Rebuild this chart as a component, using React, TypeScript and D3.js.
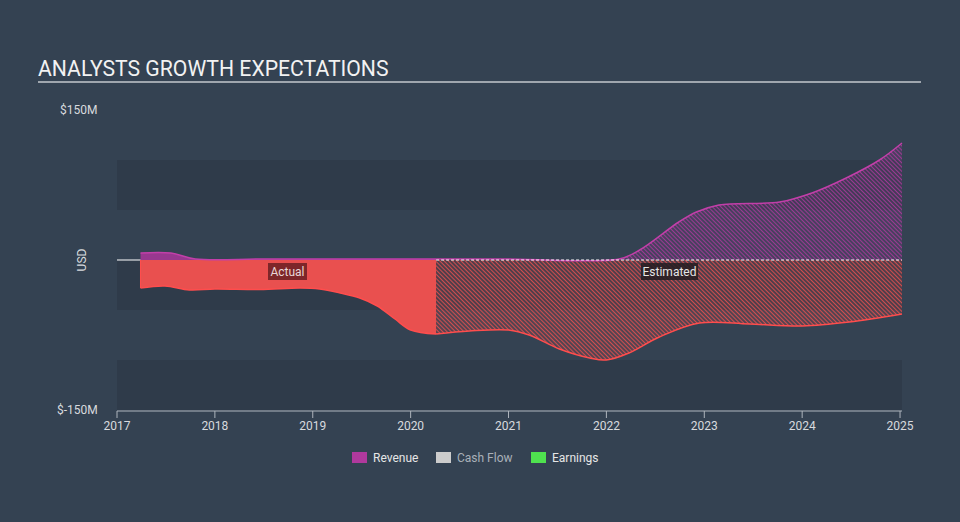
import React from "react";
import * as d3 from "d3";

// decimal years, $M
const revenueActual: [number, number][] = [
  [2017.24, 7], [2017.55, 7], [2017.8, 1], [2018.5, 1], [2019.5, 1], [2020.26, 1],
];
const revenueEstimated: [number, number][] = [
  [2020.26, 1], [2021, 1], [2022.13, 1], [2022.34, 10], [2022.74, 38], [2022.92, 48],
  [2023.15, 55], [2023.77, 58], [2024.1, 67], [2024.45, 82], [2024.79, 100], [2025.02, 117],
];
const earningsActual: [number, number][] = [
  [2017.24, -28], [2017.49, -26], [2017.74, -30], [2018, -29], [2018.46, -29.5],
  [2018.87, -28], [2019.07, -29], [2019.28, -33], [2019.48, -38], [2019.66, -46],
  [2019.84, -59], [2020, -70], [2020.26, -74],
];
const earningsEstimated: [number, number][] = [
  [2020.26, -74], [2020.6, -71], [2021, -70], [2021.21, -75], [2021.52, -89],
  [2021.83, -98], [2022, -100], [2022.23, -93], [2022.54, -77], [2022.95, -63],
  [2023.46, -64], [2024, -66], [2024.48, -62], [2025.02, -54],
];
const yearTicks = [2017, 2018, 2019, 2020, 2021, 2022, 2023, 2024, 2025];
const yTickLabels = ["$150M", "$-150M"];
const legendItems = [
  { name: "Revenue", color: "#b0399d", text: "#e6e6e6" },
  { name: "Cash Flow", color: "#cccccc", text: "#a9b0b8" },
  { name: "Earnings", color: "#4fe24f", text: "#e6e6e6" },
];

const W = 960;
const H = 522;
const BG = "#344252";
const BAND = "#2f3b4a";
const FONT = "Roboto, 'Open Sans', sans-serif";

export default function App() {
  const x = d3.scaleLinear().domain([2017, 2025.02]).range([117, 902]);
  const y = d3.scaleLinear().domain([-150, 150]).range([410, 110]);

  const curve = d3.curveCatmullRom.alpha(0.5);
  const line = d3.line<[number, number]>()
    .x((d) => x(d[0]))
    .y((d) => y(d[1]))
    .curve(curve);
  const area = d3.area<[number, number]>()
    .x((d) => x(d[0]))
    .y0(y(0))
    .y1((d) => y(d[1]))
    .curve(curve);

  const bands = [100, 0, -100];
  const splitX = x(2020.26);

  return (
    <div style={{ position: "absolute", left: 0, top: 0 }}>
      <svg width={W} height={H} style={{ display: "block", fontFamily: FONT }}>
        <defs>
          <pattern id="hatchRed" width="3" height="3" patternUnits="userSpaceOnUse" patternTransform="rotate(-45)">
            <line x1="0" y1="0" x2="0" y2="3" stroke="#e8504f" strokeWidth="1.7" />
          </pattern>
          <pattern id="hatchPurple" width="3" height="3" patternUnits="userSpaceOnUse" patternTransform="rotate(-45)">
            <line x1="0" y1="0" x2="0" y2="3" stroke="#a53a99" strokeWidth="1.8" />
          </pattern>
        </defs>
        <rect width={W} height={H} fill={BG} />

        <text x={38} y={76} fill="#f2f2f2" fontSize={21.2}>ANALYSTS GROWTH EXPECTATIONS</text>
        <line x1={38} x2={921} y1={82} y2={82} stroke="#c3c8ce" strokeWidth={1.5} />

        {bands.map((b) => (
          <rect key={b} x={x(2017)} width={x(2025.02) - x(2017)} y={y(b)} height={y(b - 50) - y(b)} fill={BAND} />
        ))}

        <text x={60} y={114} fill="#d8dade" fontSize={12}>{yTickLabels[0]}</text>
        <text x={57} y={414} fill="#d8dade" fontSize={12}>{yTickLabels[1]}</text>
        <text transform={`translate(86,${y(0)}) rotate(-90)`} textAnchor="middle" fill="#d8dade" fontSize={12}>USD</text>

        {/* zero line */}
        <line x1={x(2017)} x2={splitX} y1={y(0)} y2={y(0)} stroke="#ffffff" strokeWidth={1} />

        {/* actual */}
        <path d={area(earningsActual) || ""} fill="#e9504f" />
        <path d={line(earningsActual) || ""} fill="none" stroke="#ff4d4d" strokeWidth={1.5} />
        <path d={area(revenueActual) || ""} fill="#98388f" />
        <path d={line(revenueActual) || ""} fill="none" stroke="#c23fa9" strokeWidth={1.5} />
        <line x1={x(2017.24)} x2={x(2017.24)} y1={y(0)} y2={y(-28)} stroke="#ff4d4d" strokeWidth={1} />

        {/* estimated */}
        <path d={area(earningsEstimated) || ""} fill="#e8504f" fillOpacity={0.18} />
        <path d={area(earningsEstimated) || ""} fill="url(#hatchRed)" />
        <path d={line(earningsEstimated) || ""} fill="none" stroke="#ff4d4d" strokeWidth={1.5} />
        <path d={area(revenueEstimated) || ""} fill="#a53a99" fillOpacity={0.18} />
        <path d={area(revenueEstimated) || ""} fill="url(#hatchPurple)" />
        <path d={line(revenueEstimated) || ""} fill="none" stroke="#c23fa9" strokeWidth={1.5} />
        <line x1={splitX} x2={x(2025.02)} y1={y(0)} y2={y(0)} stroke="#ffffff" strokeWidth={1} strokeDasharray="3,2" />

        {/* labels */}
        <rect x={268} y={263} width={39} height={17} fill="#6a1f22" fillOpacity={0.85} />
        <text x={287.5} y={276} textAnchor="middle" fill="#e8d6d6" fontSize={12}>Actual</text>
        <rect x={641} y={263} width={57} height={17} fill="#231d22" fillOpacity={0.85} />
        <text x={669.5} y={276} textAnchor="middle" fill="#e6e6e6" fontSize={12}>Estimated</text>

        {/* x axis */}
        <line x1={x(2017)} x2={x(2025.02)} y1={411} y2={411} stroke="#aeb5bd" strokeWidth={1} />
        {yearTicks.map((t) => (
          <g key={t}>
            <line x1={x(t)} x2={x(t)} y1={411} y2={418} stroke="#aeb5bd" strokeWidth={1} />
            <text x={x(t)} y={430} textAnchor="middle" fill="#d8dade" fontSize={12}>{t}</text>
          </g>
        ))}

        {/* legend */}
        {legendItems.map((it, i) => {
          const lx = [352, 436, 531][i];
          return (
            <g key={it.name}>
              <rect x={lx} y={452} width={15} height={11} fill={it.color} />
              <text x={lx + 21} y={462} fill={it.text} fontSize={12}>{it.name}</text>
            </g>
          );
        })}
      </svg>
    </div>
  );
}
